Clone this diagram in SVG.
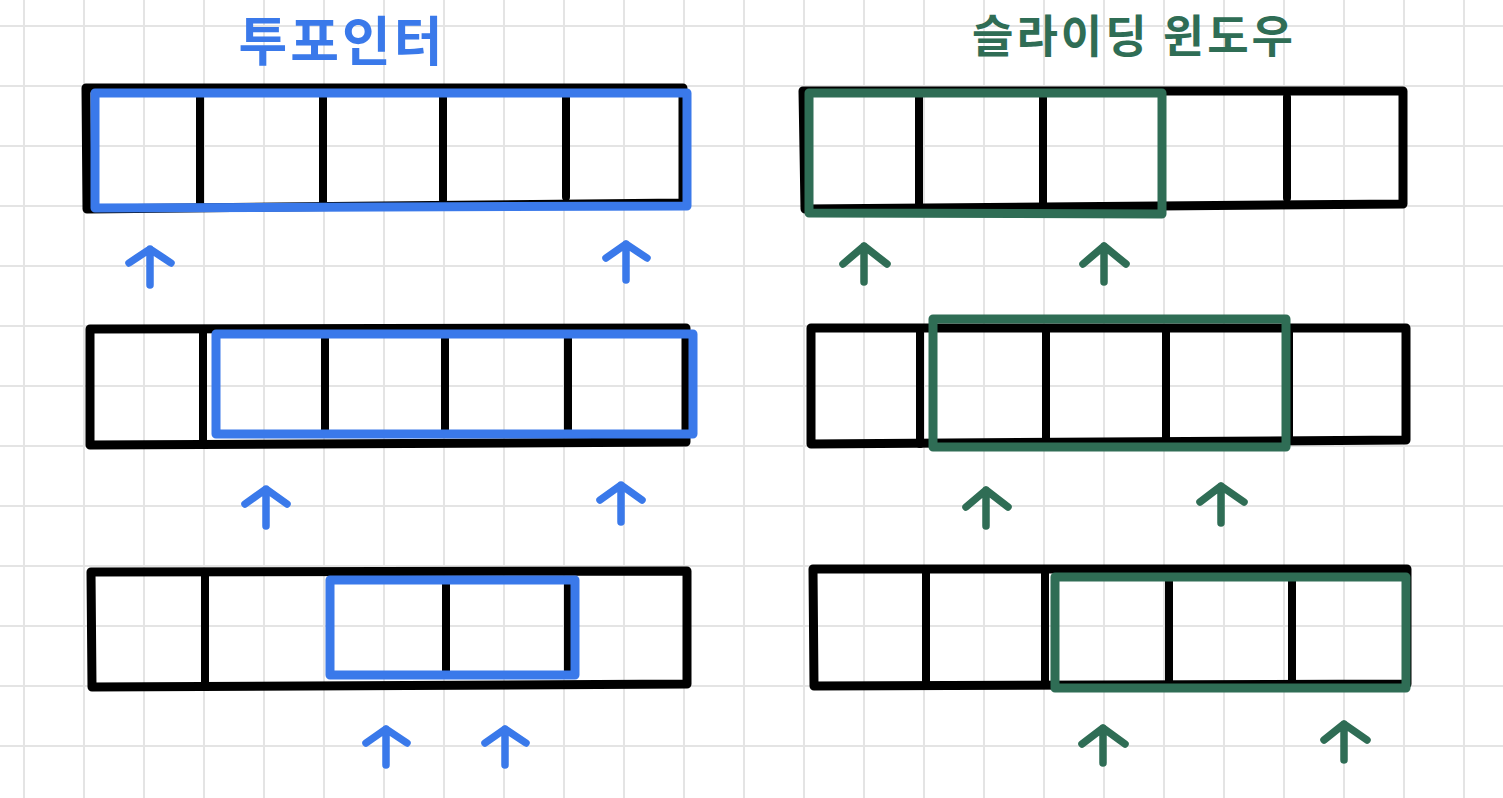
<svg xmlns="http://www.w3.org/2000/svg" width="1503" height="798" viewBox="0 0 1503 798">
<style>
.grid{fill:none;stroke:#e4e4e4;stroke-width:2}
.cell{fill:none;stroke:#000;stroke-width:9;stroke-linejoin:round;stroke-linecap:round}
.div{fill:none;stroke:#000;stroke-width:8;stroke-linecap:round}
.blue{fill:none;stroke:#3a79ea;stroke-width:9;stroke-linejoin:round;stroke-linecap:round}
.green{fill:none;stroke:#2f6d55;stroke-width:9;stroke-linejoin:round;stroke-linecap:round}
.pb{fill:none;stroke:#3a79ea;stroke-width:7.5;stroke-linejoin:round;stroke-linecap:round}
.pg{fill:none;stroke:#2f6d55;stroke-width:7.5;stroke-linejoin:round;stroke-linecap:round}
.title{font-family:"Noto Sans CJK KR","Noto Sans",sans-serif;font-weight:700;text-anchor:middle}
</style>
<rect width="1503" height="798" fill="#fff"/>
<path class="grid" d="M24 0V798M84 0V798M144 0V798M204 0V798M264 0V798M324 0V798M384 0V798M444 0V798M504 0V798M564 0V798M624 0V798M684 0V798M744 0V798M804 0V798M864 0V798M924 0V798M984 0V798M1044 0V798M1104 0V798M1164 0V798M1224 0V798M1284 0V798M1344 0V798M1404 0V798M1464 0V798M0 26H1503M0 86H1503M0 146H1503M0 206H1503M0 266H1503M0 326H1503M0 386H1503M0 446H1503M0 506H1503M0 566H1503M0 626H1503M0 686H1503M0 746H1503"/>
<g id="title-two-pointer"><text class="title" x="342" y="61" font-size="53" letter-spacing="3" fill="#3a79ea">투포인터</text></g>
<g id="title-sliding-window"><text class="title" x="1134" y="53" font-size="45" letter-spacing="3" fill="#2f6d55">슬라이딩 윈도우</text></g>
<g id="two-pointer-step1">
<path class="cell" d="M86,88 L683,88 L683,203 L87,209 Z"/>
<path class="div" d="M200,97V203M323,97V202M443,97V200M566,97V197"/>
<path class="blue" d="M95,93 L687,93 L687,206 L95,208 Z"/>
</g>
<g id="two-pointer-step2">
<path class="cell" d="M90,329 L686,328 L686,442 L90,445 Z"/>
<path class="div" d="M203,330V444M325,334V434M445,334V434M568,334V434"/>
<path class="blue" d="M216,334 L693,334 L693,434 L216,434 Z"/>
</g>
<g id="two-pointer-step3">
<path class="cell" d="M91,572 L687,571 L687,684 L92,687 Z"/>
<path class="div" d="M205,572V686M446,580V675M568,580V675"/>
<path class="blue" d="M330,580 L575,580 L575,675 L330,675 Z"/>
</g>
<g id="sliding-window-step1">
<path class="cell" d="M803,91 L1403,91 L1403,204 L805,209 Z"/>
<path class="div" d="M919,95V207M1043,95V206M1287,97V198"/>
<path class="green" d="M809,93 L1162,93 L1162,214 L809,213 Z"/>
</g>
<g id="sliding-window-step2">
<path class="cell" d="M811,328 L1406,328 L1406,440 L811,444 Z"/>
<path class="div" d="M920,330V444M1046,330V443M1166,330V441M1289,330V441"/>
<path class="green" d="M933,319 L1286,319 L1286,447 L933,447 Z"/>
</g>
<g id="sliding-window-step3">
<path class="cell" d="M813,569 L1407,569 L1407,684 L814,686 Z"/>
<path class="div" d="M926,570V686M1045,570V685M1169,577V683M1292,577V683"/>
<path class="green" d="M1055,577 L1406,577 L1406,688 L1055,688 Z"/>
</g>
<g id="pointers">
<path class="pb" d="M150,249V285M129,263L150,249L171,263"/>
<path class="pb" d="M626,244V280M606,258L626,244L647,258"/>
<path class="pb" d="M266,489V526M245,504L266,489L287,504"/>
<path class="pb" d="M621,485V522M600,500L621,485L642,500"/>
<path class="pb" d="M386,729V765M366,743L386,729L407,743"/>
<path class="pb" d="M505,729V765M485,743L505,729L526,743"/>
<path class="pg" d="M864,246V282M843,264L864,246L887,264"/>
<path class="pg" d="M1104,246V282M1083,264L1104,246L1126,264"/>
<path class="pg" d="M986,490V526M966,507L986,490L1008,507"/>
<path class="pg" d="M1221,486V523M1200,502L1221,486L1244,502"/>
<path class="pg" d="M1103,728V763M1082,744L1103,728L1125,744"/>
<path class="pg" d="M1344,724V760M1324,740L1344,724L1367,740"/>
</g>
</svg>
